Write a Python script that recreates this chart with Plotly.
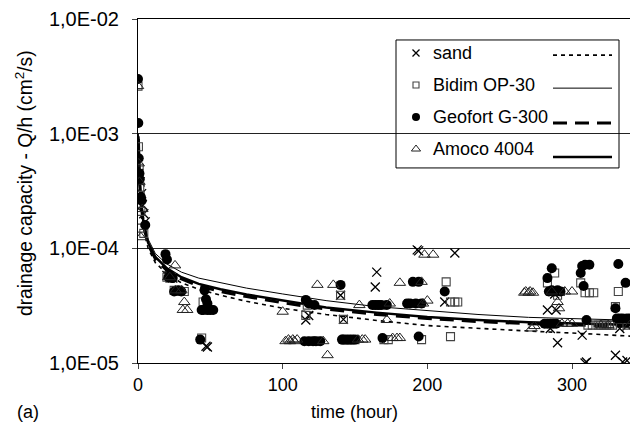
import plotly.graph_objects as go

# fitted curves
curve_t = [0.3, 1, 2, 4, 7, 12, 20, 30, 42, 57, 75, 100, 130, 165, 200, 235, 270, 310, 346]
curve_bidim = [1.0e-3, 4.5e-4, 2.8e-4, 1.7e-4, 1.2e-4, 9.0e-5, 7.3e-5, 6.2e-5, 5.5e-5, 5.0e-5,
               4.5e-5, 4.0e-5, 3.5e-5, 3.1e-5, 2.85e-5, 2.65e-5, 2.5e-5, 2.42e-5, 2.35e-5]
curve_amoco = [9.5e-4, 4.2e-4, 2.6e-4, 1.6e-4, 1.12e-4, 8.4e-5, 6.7e-5, 5.6e-5, 4.9e-5, 4.4e-5,
               3.95e-5, 3.5e-5, 3.05e-5, 2.75e-5, 2.52e-5, 2.37e-5, 2.27e-5, 2.2e-5, 2.15e-5]
curve_geofort = [9.0e-4, 4.0e-4, 2.5e-4, 1.55e-4, 1.08e-4, 8.1e-5, 6.4e-5, 5.4e-5, 4.7e-5, 4.2e-5,
                 3.8e-5, 3.35e-5, 2.95e-5, 2.65e-5, 2.45e-5, 2.3e-5, 2.2e-5, 2.13e-5, 2.08e-5]
curve_sand = [8.5e-4, 3.8e-4, 2.35e-4, 1.45e-4, 1.0e-4, 7.5e-5, 6.0e-5, 5.0e-5, 4.4e-5, 3.9e-5,
              3.45e-5, 3.0e-5, 2.65e-5, 2.35e-5, 2.12e-5, 2.0e-5, 1.9e-5, 1.8e-5, 1.7e-5]

# measured points
sand_t = [0.5, 1.5, 2.5, 3, 4, 5, 20, 24, 28, 47, 48, 116, 118, 140, 142, 164, 165, 193, 194,
          212, 219, 283, 285, 288, 289, 290, 307, 309, 310, 330, 333, 335, 338, 338]
sand_q = [4.5e-4, 3.8e-4, 3.0e-4, 2.4e-4, 2.0e-4, 1.7e-4, 5.8e-5, 5.5e-5, 4.3e-5, 1.4e-5, 1.38e-5,
          2.37e-5, 2.6e-5, 3.9e-5, 2.4e-5, 4.6e-5, 6.2e-5, 9.7e-5, 9.5e-5, 3.4e-5, 9.1e-5, 2.9e-5,
          2.0e-5, 4.0e-5, 2.9e-5, 1.5e-5, 1.75e-5, 1.0e-5, 1.02e-5, 1.17e-5, 2.0e-5, 1.02e-5,
          1.05e-5, 2.1e-5]

bidim_t = [0, 0.3, 0.8, 1.2, 1.5, 2, 1.5, 4, 20, 22, 25, 45, 47, 44, 116, 117, 120, 124, 140, 142,
           145, 150, 165, 170, 173, 190, 195, 213, 216, 219, 221, 216, 196, 283, 288, 285, 290,
           292, 306, 309, 312, 315, 318, 322, 326, 330, 332, 338,
           23, 28, 32, 49, 143, 147, 168, 187, 193, 287, 311, 314, 320, 324, 328, 336, 341]
bidim_q = [2.6e-3, 7.7e-4, 5.0e-4, 3.4e-4, 2.9e-4, 2.1e-4, 1.5e-4, 1.35e-4, 5.6e-5, 5.5e-5, 4.3e-5,
           3.4e-5, 2.9e-5, 1.65e-5, 2.6e-5, 3.2e-5, 1.55e-5, 1.55e-5, 3.9e-5, 2.4e-5, 1.6e-5,
           1.6e-5, 3.2e-5, 1.6e-5, 1.6e-5, 3.3e-5, 3.3e-5, 5.1e-5, 3.4e-5, 3.4e-5, 3.4e-5, 1.7e-5,
           1.6e-5, 5.0e-5, 6.1e-5, 4.2e-5, 3.9e-5, 4.2e-5, 5.0e-5, 4.1e-5, 4.1e-5, 4.1e-5,
           2.14e-5, 2.14e-5, 2.14e-5, 3.1e-5, 4.2e-5, 2.14e-5,
           5.6e-5, 4.2e-5, 4.2e-5, 2.9e-5, 1.6e-5, 1.6e-5, 3.2e-5, 3.3e-5, 3.3e-5, 4.2e-5,
           2.14e-5, 2.14e-5, 2.14e-5, 2.14e-5, 2.14e-5, 2.4e-5, 2.4e-5]

geofort_t = [0, 0.2, 0.5, 1, 1.2, 2, 2.5, 5, 19, 20, 22, 24, 28, 46, 47, 48, 45, 50, 43, 116, 118,
             122, 118, 126, 140, 142, 146, 150, 164, 168, 169, 188, 192, 190, 194, 194, 212, 281,
             285, 289, 283, 286, 286, 290, 306, 307, 309, 312, 308, 310, 330, 332, 337, 331, 335,
             340,
             21, 23, 25, 30, 44, 48, 52, 115, 121, 123, 141, 144, 148, 162, 166, 172, 186, 196,
             284, 288, 292, 283, 287, 333, 338, 342]
geofort_q = [3.0e-3, 1.24e-3, 6.1e-4, 4.5e-4, 4.0e-4, 2.8e-4, 2.6e-4, 1.6e-4, 8.9e-5, 8.0e-5, 5.7e-5,
             5.5e-5, 4.3e-5, 4.3e-5, 3.6e-5, 3.3e-5, 2.9e-5, 2.9e-5, 1.6e-5, 3.55e-5, 3.3e-5,
             3.2e-5, 1.55e-5, 1.55e-5, 4.8e-5, 1.6e-5, 1.6e-5, 1.6e-5, 3.2e-5, 3.2e-5, 1.65e-5,
             3.3e-5, 3.3e-5, 5.1e-5, 5.1e-5, 1.7e-5, 4.2e-5, 2.2e-5, 2.2e-5, 2.2e-5, 5.5e-5,
             6.7e-5, 4.3e-5, 4.3e-5, 6.1e-5, 7.0e-5, 7.2e-5, 7.2e-5, 4.7e-5, 2.37e-5, 3.0e-5,
             7.3e-5, 5.0e-5, 2.45e-5, 2.45e-5, 2.45e-5,
             5.6e-5, 5.6e-5, 4.2e-5, 4.2e-5, 2.9e-5, 2.9e-5, 2.9e-5, 1.55e-5, 1.55e-5, 1.55e-5,
             1.6e-5, 1.6e-5, 1.6e-5, 3.2e-5, 3.2e-5, 3.2e-5, 3.3e-5, 3.3e-5, 4.2e-5, 4.2e-5,
             4.2e-5, 2.2e-5, 2.2e-5, 2.45e-5, 2.45e-5, 2.45e-5]

amoco_t = [0, 0.5, 1, 2, 3, 25.6, 22, 26, 30, 32, 31, 34, 100, 102, 105, 108, 124, 128, 131, 135,
           153, 152, 155, 157, 172, 174, 176, 179, 181, 181, 197, 200, 196, 198, 204, 267, 270,
           273, 272, 274, 290, 291, 295, 300, 297, 300, 320, 325, 340,
           104, 107, 110, 268, 271, 286, 293]
amoco_q = [2.6e-3, 5.5e-4, 3.8e-4, 1.25e-4, 2.2e-4, 7.1e-5, 5.6e-5, 4.3e-5, 4.3e-5, 3.4e-5, 2.9e-5,
           2.9e-5, 2.8e-5, 1.55e-5, 1.55e-5, 1.55e-5, 4.8e-5, 1.55e-5, 1.17e-5, 4.8e-5, 3.2e-5,
           1.6e-5, 1.6e-5, 1.6e-5, 2.37e-5, 3.3e-5, 1.65e-5, 1.65e-5, 5.0e-5, 1.65e-5, 3.3e-5,
           3.5e-5, 5.1e-5, 8.8e-5, 8.8e-5, 4.1e-5, 4.1e-5, 4.1e-5, 2.0e-5, 2.1e-5, 3.4e-5, 3.0e-5,
           4.2e-5, 4.2e-5, 2.2e-5, 2.2e-5, 2.14e-5, 2.14e-5, 2.14e-5,
           1.6e-5, 1.6e-5, 1.6e-5, 4.2e-5, 4.2e-5, 4.2e-5, 2.2e-5]

names = ['sand', 'Bidim OP-30', 'Geofort G-300', 'Amoco 4004']
y_ticks = [1e-5, 1e-4, 1e-3, 1e-2]
y_ticktext = ['1,0E-05', '1,0E-04', '1,0E-03', '1,0E-02']
x_ticks = [0, 100, 200, 300]

FONT = 'Liberation Sans, Arial, sans-serif'

markers = [
    dict(symbol='x-thin', size=9, color='black', line=dict(width=1.3, color='black')),
    dict(symbol='square-open', size=8, color='#444', line=dict(width=1.1, color='#444')),
    dict(symbol='circle', size=10, color='black'),
    dict(symbol='triangle-up-open', size=10, color='#222', line=dict(width=1, color='#222')),
]
leg_markers = [dict(m, size=m['size'] - 2) for m in markers]
lines = [
    dict(color='black', width=1.6, dash='4px,4px'),
    dict(color='black', width=1),
    dict(color='black', width=3, dash='14px,8px'),
    dict(color='black', width=2.5),
]
curves = [curve_sand, curve_bidim, curve_geofort, curve_amoco]
points = [(sand_t, sand_q), (bidim_t, bidim_q), (geofort_t, geofort_q), (amoco_t, amoco_q)]

fig = go.Figure()

for c, ln in zip(curves, lines):
    fig.add_trace(go.Scatter(x=curve_t, y=c, mode='lines', line=ln, showlegend=False))

for (t, q), mk in zip(points, markers):
    fig.add_trace(go.Scatter(x=t, y=q, mode='markers', marker=mk, showlegend=False))

# legend drawn by hand: symbol left, name, line sample right
leg_rows = [0.901, 0.808, 0.715, 0.622]
leg_line_rows = [0.895, 0.799, 0.698, 0.599]
for i, (name, mk, ln) in enumerate(zip(names, leg_markers, lines)):
    fig.add_trace(go.Scatter(x=[0.556], y=[leg_rows[i]], mode='markers', marker=mk,
                             xaxis='x2', yaxis='y2', showlegend=False))
    fig.add_trace(go.Scatter(x=[0.83, 0.948], y=[leg_line_rows[i]] * 2, mode='lines', line=ln,
                             xaxis='x2', yaxis='y2', showlegend=False))
    fig.add_annotation(x=0.586, y=leg_rows[i], xref='paper', yref='paper', text=name,
                       showarrow=False, xanchor='left', yanchor='middle',
                       font=dict(size=18, color='black', family=FONT))

fig.add_shape(type='rect', xref='paper', yref='paper', x0=0.516, x1=0.962, y0=0.567, y1=0.939,
              line=dict(color='black', width=1), fillcolor='rgba(0,0,0,0)')

fig.add_annotation(x=0.432, y=-0.142, xref='paper', yref='paper', text='time (hour)',
                   showarrow=False, yanchor='middle', font=dict(size=18, color='black', family=FONT))
fig.add_annotation(x=-0.228, y=0.523, xref='paper', yref='paper',
                   text='drainage capacity - Q/h (cm<sup>2</sup>/s)', textangle=-90,
                   showarrow=False, xanchor='center', yanchor='middle',
                   font=dict(size=19.3, color='black', family=FONT))
fig.add_annotation(x=-0.246, y=-0.142, xref='paper', yref='paper', text='(a)',
                   showarrow=False, xanchor='left', yanchor='middle',
                   font=dict(size=18, color='black', family=FONT))

# the page has an 8px body margin, so the figure is made 8px smaller on each side
fig.update_layout(
    width=630, height=425,
    margin=dict(l=130, r=0, t=11, b=70, autoexpand=False),
    paper_bgcolor='white', plot_bgcolor='white',
    font=dict(family=FONT, size=18, color='black'),
    xaxis=dict(range=[0, 345.6], tickvals=x_ticks, ticks='outside', ticklen=5,
               showline=True, linecolor='black', linewidth=1, mirror=True,
               showgrid=False, zeroline=False, automargin=False),
    yaxis=dict(type='log', range=[-5, -2], tickvals=y_ticks, ticktext=y_ticktext,
               ticks='outside', ticklen=5, ticklabelstandoff=9, tickfont=dict(size=20),
               showline=True, linecolor='black', linewidth=1,
               showgrid=True, gridcolor='#222', gridwidth=1, zeroline=False, automargin=False),
    xaxis2=dict(overlaying='x', range=[0, 1], visible=False),
    yaxis2=dict(overlaying='y', range=[0, 1], visible=False),
)

fig.write_html('out.html')
